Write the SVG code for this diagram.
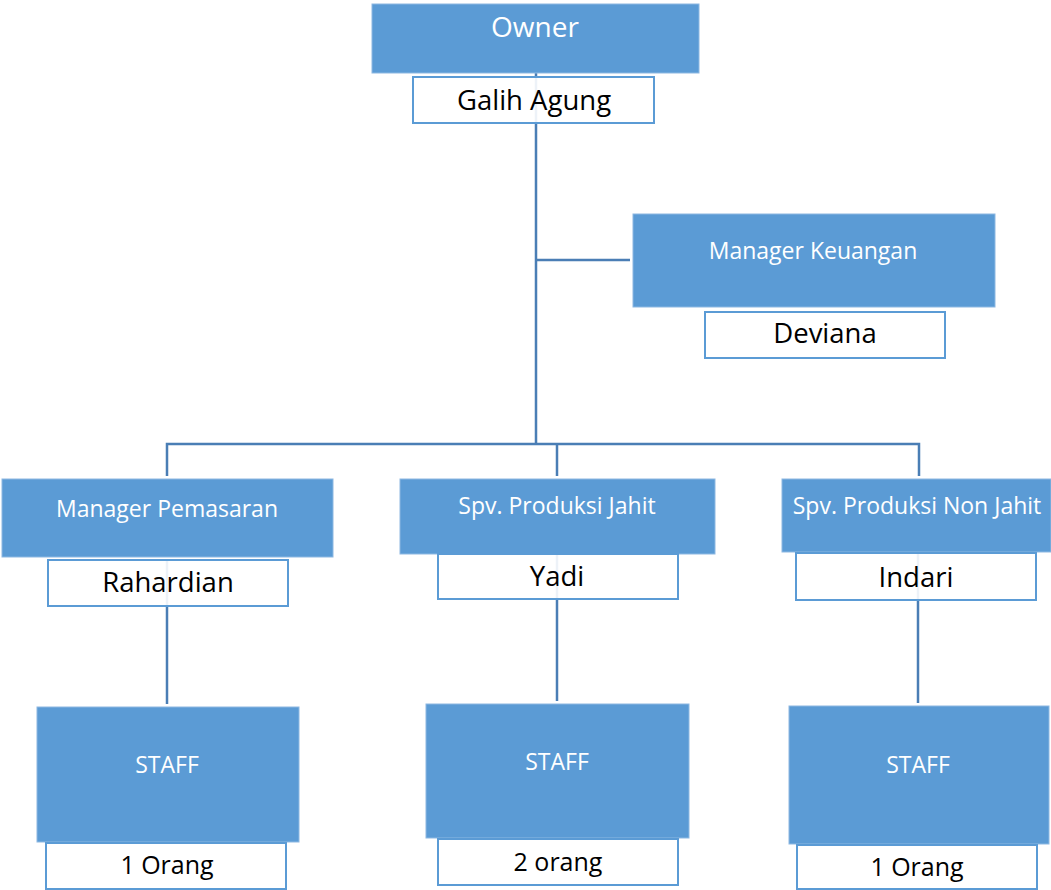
<svg xmlns="http://www.w3.org/2000/svg" width="1051" height="890" viewBox="0 0 1051 890">
<style>
.role{fill:#5b9bd5;stroke:#8db8e2;stroke-width:1}
.name{fill:#ffffff;fill-opacity:0.9;stroke:#5b9bd5;stroke-width:2}
.wt{font-family:"Open Sans","Noto Sans",sans-serif;fill:#ffffff;text-anchor:middle;font-size:23px}
.bt{font-family:"Open Sans","Noto Sans",sans-serif;fill:#000000;text-anchor:middle;font-size:27.5px}
.num{font-size:25px}
.conn{fill:none;stroke:#4a7eb5;stroke-width:2.5}
</style>
<rect width="1051" height="890" fill="#ffffff"/>
<g id="connectors">
<path class="conn" d="M536,73 V444"/>
<path class="conn" d="M536,260 H630"/>
<path class="conn" d="M167,476 V444 H919 V476"/>
<path class="conn" d="M557,444 V476"/>
<path class="conn" d="M167,560 V704"/>
<path class="conn" d="M557,554 V701"/>
<path class="conn" d="M918,553 V703"/>
</g>
<g id="owner">
<rect class="role" x="372" y="4" width="327" height="69"/>
<text class="wt" x="535" y="37" style="font-size:28px">Owner</text>
<rect class="name" x="413" y="77" width="241" height="46"/>
<text class="bt" x="534" y="110">Galih Agung</text>
</g>
<g id="manager-keuangan">
<rect class="role" x="633" y="214" width="362" height="93"/>
<text class="wt" x="813" y="259">Manager Keuangan</text>
<rect class="name" x="705" y="312" width="240" height="46"/>
<text class="bt" x="825" y="343">Deviana</text>
</g>
<g id="manager-pemasaran">
<rect class="role" x="2" y="479" width="331" height="78"/>
<text class="wt" x="167" y="517">Manager Pemasaran</text>
<rect class="name" x="48" y="560" width="240" height="46"/>
<text class="bt" x="168" y="592">Rahardian</text>
</g>
<g id="spv-jahit">
<rect class="role" x="400" y="479" width="315" height="75"/>
<text class="wt" x="557" y="514">Spv. Produksi Jahit</text>
<rect class="name" x="438" y="554" width="240" height="45"/>
<text class="bt" x="557" y="586">Yadi</text>
</g>
<g id="spv-non-jahit">
<rect class="role" x="782" y="479" width="269" height="73"/>
<text class="wt" x="917" y="514">Spv. Produksi Non Jahit</text>
<rect class="name" x="796" y="553" width="240" height="47"/>
<text class="bt" x="916" y="587">Indari</text>
</g>
<g id="staff-1">
<rect class="role" x="37" y="707" width="262" height="135"/>
<text class="wt" x="167" y="773">STAFF</text>
<rect class="name" x="46" y="843" width="240" height="46"/>
<text class="bt num" x="167" y="874">1 Orang</text>
</g>
<g id="staff-2">
<rect class="role" x="426" y="704" width="263" height="134"/>
<text class="wt" x="557" y="770">STAFF</text>
<rect class="name" x="438" y="839" width="240" height="46"/>
<text class="bt num" x="558" y="871">2 orang</text>
</g>
<g id="staff-3">
<rect class="role" x="789" y="706" width="260" height="138"/>
<text class="wt" x="918" y="773">STAFF</text>
<rect class="name" x="797" y="845" width="240" height="44"/>
<text class="bt num" x="917" y="876">1 Orang</text>
</g>
</svg>
